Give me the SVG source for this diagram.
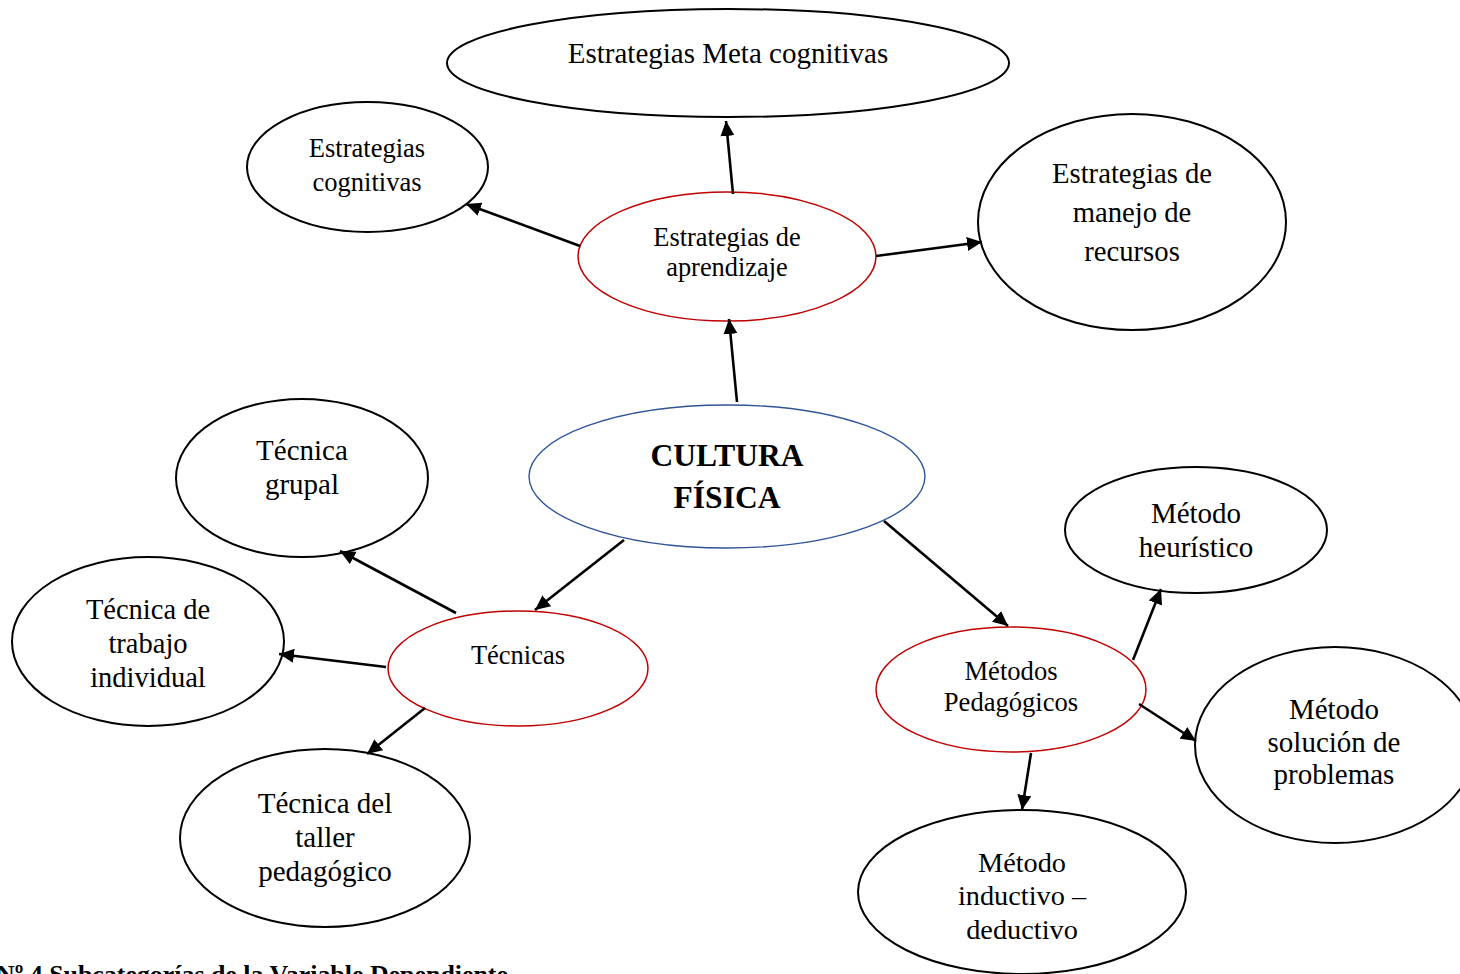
<svg xmlns="http://www.w3.org/2000/svg" width="1460" height="974" viewBox="0 0 1460 974">
  <style>
    .n { fill: #ffffff; stroke: #000000; stroke-width: 2; }
    .red { fill: #ffffff; stroke: #c00000; stroke-width: 1.5; }
    .blue { fill: #ffffff; stroke: #2f5597; stroke-width: 1.4; }
    text { font-family: "Liberation Serif", "Times New Roman", serif; fill: #000000; text-anchor: middle; }
    .c { stroke: #000000; stroke-width: 2.6; fill: none; marker-end: url(#arrow); }
  </style>
  <defs>
    <marker id="arrow" markerUnits="userSpaceOnUse" markerWidth="16" markerHeight="14" refX="15" refY="7" orient="auto">
      <path d="M0,0 L15,7 L0,14 Z" fill="#000000"/>
    </marker>
  </defs>
  <rect width="1460" height="974" fill="#ffffff"/>

  <!-- nodes -->
  <g id="meta">
    <ellipse class="n" cx="728" cy="63" rx="281" ry="54"/>
    <text x="728" y="63" font-size="29">Estrategias Meta cognitivas</text>
  </g>
  <g id="cognitivas">
    <ellipse class="n" cx="367.5" cy="167" rx="120.5" ry="65"/>
    <text x="367" y="157" font-size="26.5">Estrategias</text>
    <text x="367" y="191" font-size="26.5">cognitivas</text>
  </g>
  <g id="aprendizaje">
    <ellipse class="red" cx="727" cy="256.5" rx="149" ry="64.5"/>
    <text x="727" y="246" font-size="26.4">Estrategias de</text>
    <text x="727" y="276" font-size="26.4">aprendizaje</text>
  </g>
  <g id="recursos">
    <ellipse class="n" cx="1132" cy="222" rx="154" ry="108"/>
    <text x="1132" y="183" font-size="28.7">Estrategias de</text>
    <text x="1132" y="222" font-size="28.7">manejo de</text>
    <text x="1132" y="261" font-size="28.7">recursos</text>
  </g>
  <g id="cultura">
    <ellipse class="blue" cx="727" cy="476.5" rx="198" ry="71.5"/>
    <text x="727" y="466" font-size="31.5" font-weight="bold">CULTURA</text>
    <text x="727" y="508" font-size="31.5" font-weight="bold">FÍSICA</text>
  </g>
  <g id="grupal">
    <ellipse class="n" cx="302" cy="478" rx="126" ry="79"/>
    <text x="302" y="460" font-size="29">Técnica</text>
    <text x="302" y="494" font-size="29">grupal</text>
  </g>
  <g id="individual">
    <ellipse class="n" cx="148" cy="641.5" rx="136" ry="84.5"/>
    <text x="148" y="619" font-size="28.5">Técnica de</text>
    <text x="148" y="653" font-size="28.5">trabajo</text>
    <text x="148" y="687" font-size="28.5">individual</text>
  </g>
  <g id="tecnicas">
    <ellipse class="red" cx="518" cy="668.5" rx="130" ry="57.5"/>
    <text x="518" y="664" font-size="26.5">Técnicas</text>
  </g>
  <g id="taller">
    <ellipse class="n" cx="325" cy="838" rx="145" ry="89"/>
    <text x="325" y="813" font-size="29">Técnica del</text>
    <text x="325" y="847" font-size="29">taller</text>
    <text x="325" y="881" font-size="29">pedagógico</text>
  </g>
  <g id="metodos">
    <ellipse class="red" cx="1011" cy="689.5" rx="135" ry="62.5"/>
    <text x="1011" y="680" font-size="26.6">Métodos</text>
    <text x="1011" y="711" font-size="26.6">Pedagógicos</text>
  </g>
  <g id="heuristico">
    <ellipse class="n" cx="1196" cy="530" rx="131" ry="63"/>
    <text x="1196" y="523" font-size="29">Método</text>
    <text x="1196" y="557" font-size="29">heurístico</text>
  </g>
  <g id="problemas">
    <ellipse class="n" cx="1335" cy="745" rx="140" ry="98"/>
    <text x="1334" y="719" font-size="29">Método</text>
    <text x="1334" y="752" font-size="29">solución de</text>
    <text x="1334" y="784" font-size="29">problemas</text>
  </g>
  <g id="inductivo">
    <ellipse class="n" cx="1022" cy="892" rx="164" ry="82"/>
    <text x="1022" y="872" font-size="28.3">Método</text>
    <text x="1022" y="905" font-size="28.3">inductivo –</text>
    <text x="1022" y="939" font-size="28.3">deductivo</text>
  </g>

  <!-- connectors -->
  <g id="connectors">
    <line class="c" x1="737" y1="402" x2="729" y2="319"/>
    <line class="c" x1="733" y1="194" x2="726" y2="121"/>
    <line class="c" x1="580" y1="246" x2="466" y2="204"/>
    <line class="c" x1="876" y1="256" x2="982" y2="242"/>
    <line class="c" x1="624" y1="540" x2="535" y2="610"/>
    <line class="c" x1="884" y1="521" x2="1008" y2="626"/>
    <line class="c" x1="456" y1="613" x2="340" y2="551"/>
    <line class="c" x1="386" y1="667" x2="279" y2="654"/>
    <line class="c" x1="425" y1="708" x2="367" y2="754"/>
    <line class="c" x1="1133" y1="660" x2="1161" y2="589"/>
    <line class="c" x1="1139" y1="704" x2="1196" y2="741"/>
    <line class="c" x1="1031" y1="753" x2="1022" y2="810"/>
  </g>

  <!-- caption, cut by the lower page edge -->
  <text x="-4" y="983" font-size="25.9" font-weight="bold" style="text-anchor:start">Nº 4 Subcategorías de la Variable Dependiente</text>
</svg>
